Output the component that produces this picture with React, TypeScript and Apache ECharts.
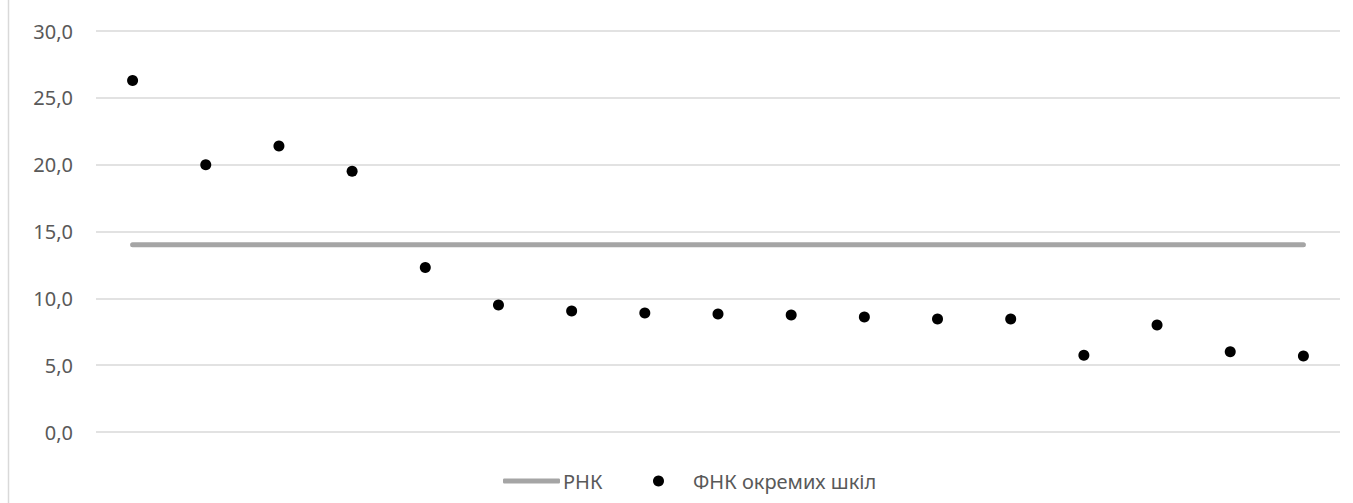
import React, { useEffect, useRef } from "react";
import * as echarts from "echarts";

const categories = ["1", "2", "3", "4", "5", "6", "7", "8", "9", "10", "11", "12", "13", "14", "15", "16", "17"];
const fnkValues = [26.3, 20.0, 21.4, 19.5, 12.3, 9.5, 9.05, 8.9, 8.83, 8.75, 8.6, 8.45, 8.45, 5.75, 8.0, 6.0, 5.68];
const rnkValues = [14.0, 14.0, 14.0, 14.0, 14.0, 14.0, 14.0, 14.0, 14.0, 14.0, 14.0, 14.0, 14.0, 14.0, 14.0, 14.0, 14.0];
const seriesNames = ["РНК", "ФНК окремих шкіл"];

export default function App() {
  const ref = useRef<HTMLDivElement>(null);
  useEffect(() => {
    if (!ref.current) return;
    const chart = echarts.init(ref.current, null, { renderer: "svg" });
    const font = "'Noto Sans', sans-serif";
    chart.setOption({
      animation: false,
      backgroundColor: "#ffffff",
      grid: { left: 96, right: 13, top: 31, bottom: 71 },
      xAxis: {
        type: "category",
        data: categories,
        boundaryGap: true,
        axisLine: { show: false },
        axisTick: { show: false },
        axisLabel: { show: false },
      },
      yAxis: {
        type: "value",
        min: 0,
        max: 30,
        interval: 5,
        axisLine: { show: false },
        axisTick: { show: false },
        axisLabel: {
          color: "#595959",
          fontSize: 20,
          fontFamily: font,
          margin: 23,
          formatter: (v: number) => v.toFixed(1).replace(".", ","),
        },
        splitLine: { lineStyle: { color: "#D9D9D9", width: 1.5 } },
      },
      legend: [
        {
          data: [{ name: seriesNames[0], icon: "roundRect" }],
          left: 503,
          top: 471,
          padding: 0,
          itemWidth: 57,
          itemHeight: 5,
          itemStyle: { color: "#A5A5A5" },
          textStyle: { color: "#595959", fontSize: 20, fontFamily: font, padding: [0, 0, 0, -2] },
        },
        {
          data: [{ name: seriesNames[1], icon: "circle" }],
          left: 653,
          top: 471,
          padding: 0,
          itemWidth: 11,
          itemHeight: 11,
          itemStyle: { color: "#000000", opacity: 1 },
          textStyle: { color: "#595959", fontSize: 20, fontFamily: font, padding: [0, 0, 0, 24] },
        },
      ],
      series: [
        {
          name: seriesNames[0],
          type: "line",
          data: rnkValues,
          showSymbol: false,
          symbol: "none",
          lineStyle: { color: "#A5A5A5", width: 5, cap: "round" },
          itemStyle: { color: "#A5A5A5" },
          z: 2,
        },
        {
          name: seriesNames[1],
          type: "scatter",
          data: fnkValues,
          symbol: "circle",
          symbolSize: 11,
          itemStyle: { color: "#000000", opacity: 1 },
          z: 3,
        },
      ],
      graphic: [
        {
          type: "line",
          shape: { x1: 8.5, y1: 0, x2: 8.5, y2: 503 },
          style: { stroke: "#D9D9D9", lineWidth: 1.5 },
        },
      ],
    });
    return () => chart.dispose();
  }, []);
  return (
    <div
      ref={ref}
      style={{ position: "fixed", left: 0, top: 0, width: 1353, height: 503 }}
    />
  );
}
